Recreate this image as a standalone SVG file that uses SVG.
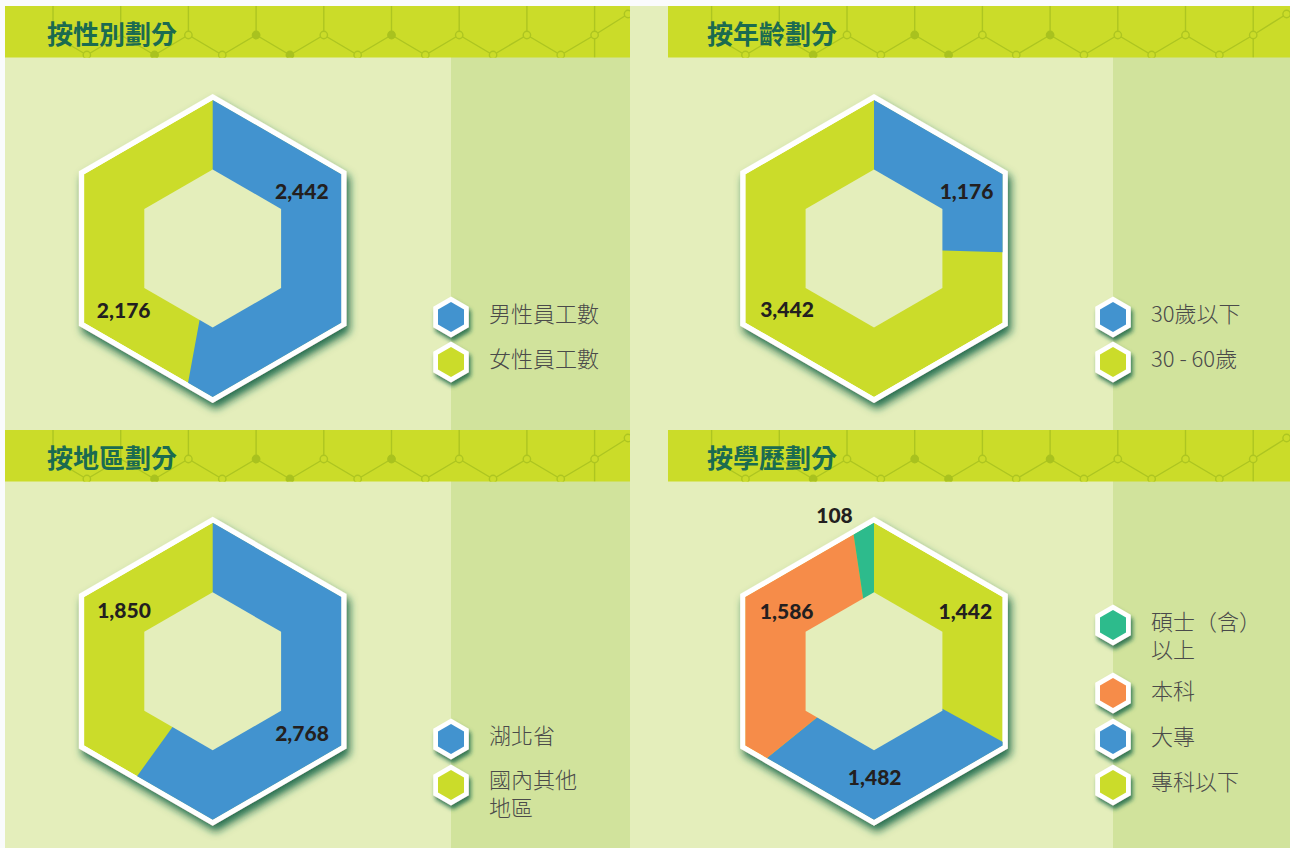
<svg xmlns="http://www.w3.org/2000/svg" xmlns:xlink="http://www.w3.org/1999/xlink" width="1290" height="848" viewBox="0 0 1290 848">
<style>
.hdr{fill:#cbdc29}
.panel{fill:#e4eebb}
.strip{fill:#d1e39c}
.lime{fill:#cbdc2a}
.blue{fill:#4293cf}
.orange{fill:#f68c49}
.teal{fill:#2dbb8c}
.white{fill:#ffffff}
.pl{fill:none;stroke:#adc521;stroke-width:1.4}
.co{fill:#cbdc29;stroke:#adc521;stroke-width:1.4}
.cf{fill:#a9c21f;stroke:#a9c21f;stroke-width:1.4}
.title{font-family:"Noto Sans CJK TC","Noto Sans CJK SC",sans-serif;font-weight:700;font-size:26px;fill:#1b6b50;dominant-baseline:central}
.num{font-family:Lato,"Liberation Sans",sans-serif;font-weight:900;font-size:21px;fill:#231f20;text-anchor:middle}
.lg{font-family:"Noto Sans CJK TC","Noto Sans CJK SC",sans-serif;font-weight:300;font-size:22px;fill:#4a4a4a;dominant-baseline:central}
</style>
<defs>
<filter id="sh" x="-20%" y="-20%" width="150%" height="150%">
<feDropShadow dx="3" dy="6" stdDeviation="4" flood-color="#17664a" flood-opacity="0.95"/>
</filter>
<filter id="shs" x="-40%" y="-40%" width="190%" height="190%">
<feDropShadow dx="2" dy="4" stdDeviation="2.2" flood-color="#17664a" flood-opacity="0.85"/>
</filter>
<polygon id="hexWhite" points="0,-154.5 133.8,-77.25 133.8,77.25 0,154.5 -133.8,77.25 -133.8,-77.25"/>
<polygon id="hexColor" points="0,-148.5 128.6,-74.25 128.6,74.25 0,148.5 -128.6,74.25 -128.6,-74.25"/>
<polygon id="hexInner" points="0,-79 68.4,-39.5 68.4,39.5 0,79 -68.4,39.5 -68.4,-39.5"/>
<polygon id="icoOut" points="0,-20.5 17.75,-10.25 17.75,10.25 0,20.5 -17.75,10.25 -17.75,-10.25"/>
<polygon id="icoIn" points="0,-15 13,-7.5 13,7.5 0,15 -13,7.5 -13,-7.5"/>
<clipPath id="hexClip"><use xlink:href="#hexColor"/></clipPath>
<clipPath id="hdrClip"><rect x="0" y="0" width="625" height="51.5"/></clipPath>
<g id="pattern">
<path class="pl" d="M48,0V29 M115.7,0V29 M183.4,0V29 M251.1,0V29 M318.8,0V29 M386.5,0V29 M454.2,0V29 M521.9,0V29 M589.6,0V51.5"/>
<path class="pl" d="M48,29 L81.85,49 L115.7,29 L149.55,49 L183.4,29 L217.25,49 L251.1,29 L284.95,49 L318.8,29 L352.65,49 L386.5,29 L420.35,49 L454.2,29 L488.05,49 L521.9,29 L555.75,49 L589.6,29 L623,8"/>
<circle class="co" cx="81.85" cy="49" r="3.7"/>
<circle class="cf" cx="149.55" cy="49" r="3.7"/>
<circle class="co" cx="183.4" cy="29" r="3.7"/>
<circle class="co" cx="217.25" cy="49" r="3.7"/>
<circle class="cf" cx="251.1" cy="29" r="3.7"/>
<circle class="cf" cx="284.95" cy="49" r="3.7"/>
<circle class="co" cx="318.8" cy="29" r="3.7"/>
<circle class="co" cx="352.65" cy="49" r="3.7"/>
<circle class="cf" cx="386.5" cy="29" r="3.7"/>
<circle class="co" cx="420.35" cy="49" r="3.7"/>
<circle class="co" cx="454.2" cy="29" r="3.7"/>
<circle class="co" cx="488.05" cy="49" r="3.7"/>
<circle class="co" cx="521.9" cy="29" r="3.7"/>
<circle class="co" cx="555.75" cy="49" r="3.7"/>
<circle class="co" cx="589.6" cy="29" r="3.7"/>
<circle class="co" cx="623" cy="8" r="3.7"/>
</g>
</defs>

<g id="background">
<rect x="0" y="0" width="1290" height="848" fill="#fafbfc"/>
<rect class="panel" x="5" y="6" width="1285" height="842"/>
<rect class="strip" x="451" y="57" width="179" height="373"/>
<rect class="strip" x="451" y="481" width="179" height="367"/>
<rect class="strip" x="1113" y="57" width="177" height="373"/>
<rect class="strip" x="1113" y="481" width="177" height="367"/>
</g>

<g id="header-gender" transform="translate(5,6)">
<rect class="hdr" width="625" height="51.5"/>
<use xlink:href="#pattern" clip-path="url(#hdrClip)"/>
<text class="title" x="42" y="26">按性別劃分</text>
</g>
<g id="header-age" transform="translate(668,6)">
<rect class="hdr" width="622" height="51.5"/>
<g clip-path="url(#hdrClip)"><use xlink:href="#pattern" transform="translate(-4.4,0)"/></g>
<text class="title" x="39" y="26">按年齡劃分</text>
</g>
<g id="header-region" transform="translate(5,430)">
<rect class="hdr" width="625" height="51.5"/>
<use xlink:href="#pattern" clip-path="url(#hdrClip)"/>
<text class="title" x="42" y="26">按地區劃分</text>
</g>
<g id="header-education" transform="translate(668,430)">
<rect class="hdr" width="622" height="51.5"/>
<g clip-path="url(#hdrClip)"><use xlink:href="#pattern" transform="translate(-4.4,0)"/></g>
<text class="title" x="39" y="26">按學歷劃分</text>
</g>

<g id="chart-gender" transform="translate(212.7,248.5)">
<use xlink:href="#hexWhite" class="white" filter="url(#sh)"/>
<g clip-path="url(#hexClip)">
<use xlink:href="#hexColor" class="lime"/>
<polygon class="blue" points="0,0 0,-300 300,0 0,300 -54.16,295.07"/>
</g>
<use xlink:href="#hexInner" class="panel"/>
<text class="num" x="89.1" y="-50">2,442</text>
<text class="num" x="-89" y="69">2,176</text>
</g>

<g id="chart-age" transform="translate(874,248.5)">
<use xlink:href="#hexWhite" class="white" filter="url(#sh)"/>
<g clip-path="url(#hexClip)">
<use xlink:href="#hexColor" class="lime"/>
<polygon class="blue" points="0,0 0,-300 299.87,8.9"/>
</g>
<use xlink:href="#hexInner" class="panel"/>
<text class="num" x="92.5" y="-50">1,176</text>
<text class="num" x="-87" y="68.5">3,442</text>
</g>

<g id="chart-region" transform="translate(212.7,671.3)">
<use xlink:href="#hexWhite" class="white" filter="url(#sh)"/>
<g clip-path="url(#hexClip)">
<use xlink:href="#hexColor" class="lime"/>
<polygon class="blue" points="0,0 0,-300 300,0 0,300 -175.5,243.3"/>
</g>
<use xlink:href="#hexInner" class="panel"/>
<text class="num" x="-88.7" y="-53.8">1,850</text>
<text class="num" x="89.3" y="70.2">2,768</text>
</g>

<g id="chart-education" transform="translate(874,671.3)">
<use xlink:href="#hexWhite" class="white" filter="url(#sh)"/>
<g clip-path="url(#hexClip)">
<use xlink:href="#hexColor" class="lime"/>
<polygon class="blue" points="0,0 263.1,144.1 0,300 -233.1,188.8"/>
<polygon class="orange" points="0,0 -233.1,188.8 -300,0 -44.3,-296.7"/>
<polygon class="teal" points="0,0 -44.3,-296.7 0,-300"/>
</g>
<use xlink:href="#hexInner" class="panel"/>
<text class="num" x="-39.5" y="-148.8">108</text>
<text class="num" x="-87.3" y="-52.3">1,586</text>
<text class="num" x="91.3" y="-52.3">1,442</text>
<text class="num" x="0.7" y="113.7">1,482</text>
</g>

<g id="legend-gender">
<g transform="translate(451,317)"><use xlink:href="#icoOut" class="white" filter="url(#shs)"/><use xlink:href="#icoIn" class="blue"/></g>
<text class="lg" x="489" y="312">男性員工數</text>
<g transform="translate(451,362)"><use xlink:href="#icoOut" class="white" filter="url(#shs)"/><use xlink:href="#icoIn" class="lime"/></g>
<text class="lg" x="489" y="357">女性員工數</text>
</g>

<g id="legend-age">
<g transform="translate(1113,317)"><use xlink:href="#icoOut" class="white" filter="url(#shs)"/><use xlink:href="#icoIn" class="blue"/></g>
<text class="lg" x="1151" y="312">30歲以下</text>
<g transform="translate(1113,362)"><use xlink:href="#icoOut" class="white" filter="url(#shs)"/><use xlink:href="#icoIn" class="lime"/></g>
<text class="lg" x="1151" y="357">30 - 60歲</text>
</g>

<g id="legend-region">
<g transform="translate(451,739)"><use xlink:href="#icoOut" class="white" filter="url(#shs)"/><use xlink:href="#icoIn" class="blue"/></g>
<text class="lg" x="489" y="734">湖北省</text>
<g transform="translate(451,785)"><use xlink:href="#icoOut" class="white" filter="url(#shs)"/><use xlink:href="#icoIn" class="lime"/></g>
<text class="lg" x="489" y="778">國內其他</text>
<text class="lg" x="489" y="806">地區</text>
</g>

<g id="legend-education">
<g transform="translate(1113,625)"><use xlink:href="#icoOut" class="white" filter="url(#shs)"/><use xlink:href="#icoIn" class="teal"/></g>
<text class="lg" x="1151" y="620">碩士（含）</text>
<text class="lg" x="1151" y="648">以上</text>
<g transform="translate(1113,693)"><use xlink:href="#icoOut" class="white" filter="url(#shs)"/><use xlink:href="#icoIn" class="orange"/></g>
<text class="lg" x="1151" y="689">本科</text>
<g transform="translate(1113,739)"><use xlink:href="#icoOut" class="white" filter="url(#shs)"/><use xlink:href="#icoIn" class="blue"/></g>
<text class="lg" x="1151" y="735">大專</text>
<g transform="translate(1113,785)"><use xlink:href="#icoOut" class="white" filter="url(#shs)"/><use xlink:href="#icoIn" class="lime"/></g>
<text class="lg" x="1151" y="780">專科以下</text>
</g>
</svg>
